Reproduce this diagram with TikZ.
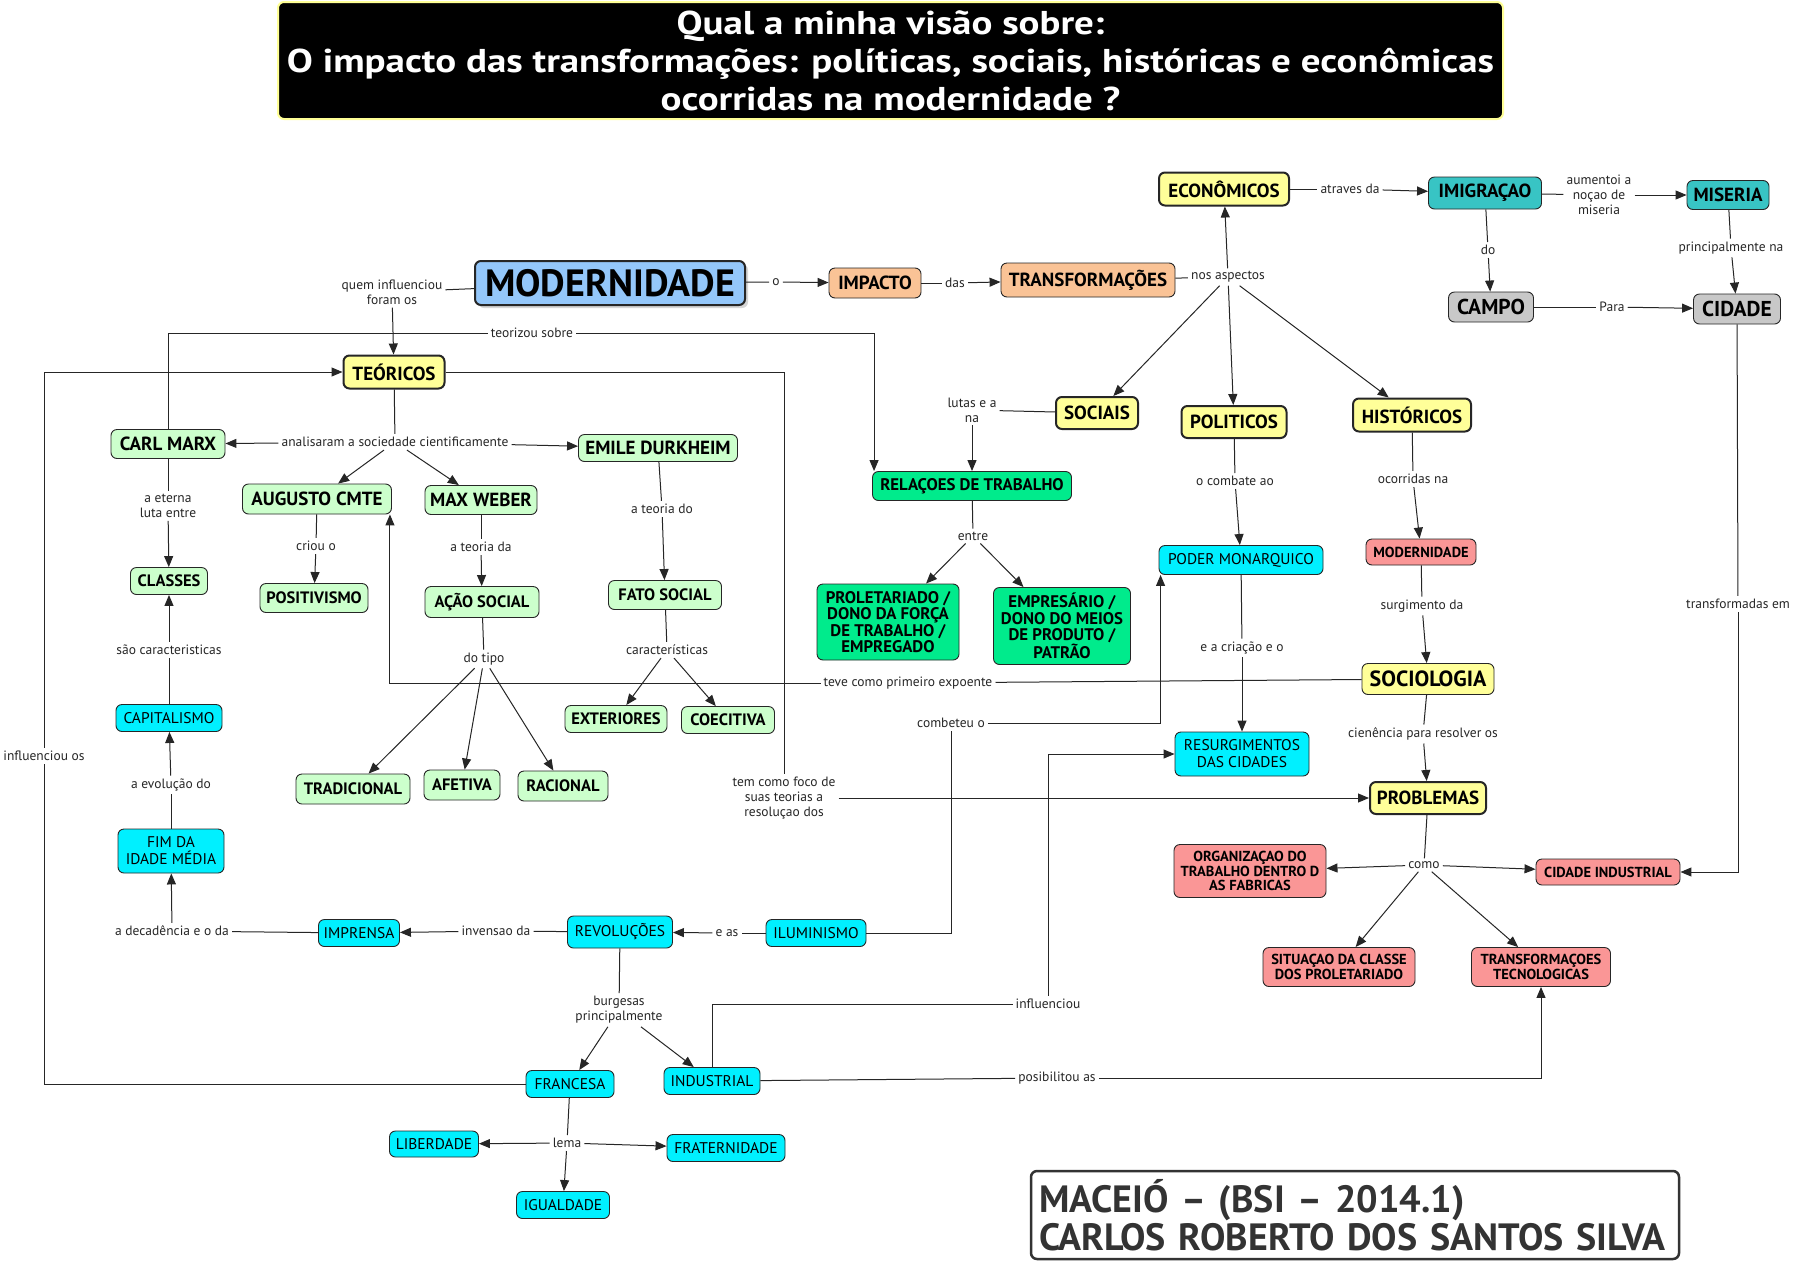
\documentclass[tikz,border=0pt]{standalone}
\usepackage{fontspec}
\setmainfont{PT Sans}
\usetikzlibrary{arrows.meta,shadows}
\newcommand\fsz[2]{\fontsize{#1}{#2}\selectfont}
\definecolor{cBlue}{RGB}{148,199,250}
\definecolor{cOrange}{RGB}{250,195,150}
\definecolor{cYel}{RGB}{255,255,153}
\definecolor{cLGreen}{RGB}{204,255,204}
\definecolor{cGreen}{RGB}{0,235,140}
\definecolor{cCyan}{RGB}{0,240,255}
\definecolor{cTeal}{RGB}{56,196,196}
\definecolor{cGray}{RGB}{200,200,200}
\definecolor{cRed}{RGB}{250,150,150}
\definecolor{cTitleBorder}{RGB}{255,255,150}
\begin{document}
\begin{tikzpicture}[x=1pt,y=-1pt,
  box/.style={draw=black!85, line width=0.9pt, rounded corners=6pt, align=center, inner sep=2pt},
  thk/.style={line width=2pt},
  wh/.style 2 args={minimum width=#1pt, minimum height=#2pt},
  fA/.style={font=\bfseries\fsz{19}{21}},
  fB/.style={font=\bfseries\fsz{16.5}{18}},
  fC/.style={font=\fsz{15.5}{17}},
  fD/.style={font=\bfseries\fsz{14.5}{14.5}},
  fE/.style={font=\bfseries\fsz{21.5}{23}},
  fG/.style={font=\bfseries\fsz{16.8}{16.4}},
  yel/.style={box, fill=cYel},
  org/.style={box, fill=cOrange, fA},
  lgr/.style={box, fill=cLGreen},
  grn/.style={box, fill=cGreen, fG},
  cyn/.style={box, fill=cCyan, fC},
  tea/.style={box, fill=cTeal, fA},
  gry/.style={box, fill=cGray, fE},
  red/.style={box, fill=cRed, fD},
  lbl/.style={font=\fsz{13.5}{15}, align=center, inner sep=3pt, text=black!85},
  ln/.style={draw=black!85, line width=1pt},
  arr/.style={ln, -{Triangle[length=11pt,width=9pt]}},
]
\path[fill=white] (0,0) rectangle (1795,1261);
\useasboundingbox (0,0) rectangle (1795,1261);

% title
\node[draw=cTitleBorder, line width=2pt, fill=black, rounded corners=6pt, wh={1225}{117}, inner sep=0pt] (title) at (890.5,60.5) {};
\node[align=center, text=white, font=\bfseries\fsz{33}{38}, inner sep=0pt] (titletext) at ([yshift=-4pt]title.center)
 {\scalebox{1.18}[1]{\begin{tabular}{@{}c@{}}Qual a minha visão sobre:\\O impacto das transformações: políticas, sociais, históricas e econômicas\\ocorridas na modernidade ?\end{tabular}}};

% credits
\node[draw=black!80, line width=2.5pt, rounded corners=6pt, fill=white, wh={648}{88}, text width=632pt, align=left, text=black!80, font=\bfseries\fsz{38}{38}, inner sep=7pt] (cred) at (1355,1215)
 {MACEIÓ – (BSI – 2014.1)\\CARLOS ROBERTO DOS SANTOS SILVA};

% main nodes
\node[box, thk, fill=cBlue, wh={270}{44}, font=\bfseries\fsz{38}{40}, drop shadow={fill=black!40, opacity=0.4, shadow xshift=3pt, shadow yshift=-3pt}] (modbig) at (610,283) {MODERNIDADE};
\node[org, wh={92}{30}] (impacto) at (875,283) {IMPACTO};
\node[org, wh={174}{34}] (transf) at (1088,280) {TRANSFORMAÇÕES};
\node[yel, thk, fA, wh={130}{33}] (econ) at (1224,189) {ECONÔMICOS};
\node[tea, wh={113}{32}] (imig) at (1485,193) {IMIGRAÇAO};
\node[tea, wh={82}{29}] (miseria) at (1728,195) {MISERIA};
\node[gry, wh={85}{30}] (campo) at (1491,307) {CAMPO};
\node[gry, wh={87}{30}] (cidade) at (1737,309) {CIDADE};
\node[yel, thk, fA, wh={82}{32}] (sociais) at (1097,413) {SOCIAIS};
\node[yel, thk, fA, wh={105}{32}] (politicos) at (1234,422) {POLITICOS};
\node[yel, thk, fA, wh={118}{33}] (historicos) at (1412,415) {HISTÓRICOS};
\node[grn, wh={199}{29}] (relacoes) at (972,486) {RELAÇOES DE TRABALHO};
\node[grn, wh={142}{76}] (prolet) at (888,622) {PROLETARIADO /\\DONO DA FORÇA\\DE TRABALHO /\\EMPREGADO};
\node[grn, wh={137}{77}] (empres) at (1062,626) {EMPRESÁRIO /\\DONO DO MEIOS\\DE PRODUTO /\\PATRÃO};
\node[cyn, wh={164}{29}] (poder) at (1241,560) {PODER MONARQUICO};
\node[red, wh={110}{26}] (modsmall) at (1421,552) {MODERNIDADE};
\node[yel, font=\bfseries\fsz{22}{24}, wh={132}{31}] (socio) at (1428,679) {SOCIOLOGIA};
\node[cyn, wh={134}{44}] (resurg) at (1242,754) {RESURGIMENTOS\\DAS CIDADES};
\node[yel, thk, fA, wh={116}{32}] (probl) at (1428,798) {PROBLEMAS};
\node[red, wh={152}{53}] (organiz) at (1250,871) {ORGANIZAÇAO DO\\TRABALHO DENTRO D\\AS FABRICAS};
\node[red, wh={144}{26}] (cidind) at (1608,872) {CIDADE INDUSTRIAL};
\node[red, wh={152}{39}] (situacao) at (1339,967) {SITUAÇAO DA CLASSE\\DOS PROLETARIADO};
\node[red, wh={139}{39}] (transtec) at (1541,967) {TRANSFORMAÇOES\\TECNOLOGICAS};

\node[yel, thk, fA, wh={101}{33}] (teo) at (394,372) {TEÓRICOS};
\node[lgr, fA, wh={114}{29}] (marx) at (168,444) {CARL MARX};
\node[lgr, fA, wh={159}{27}] (emile) at (658,448) {EMILE DURKHEIM};
\node[lgr, fA, wh={149}{30}] (augusto) at (317,499) {AUGUSTO CMTE};
\node[lgr, fA, wh={112}{29}] (weber) at (481,500) {MAX WEBER};
\node[lgr, fB, wh={77}{27}] (classes) at (169,581) {CLASSES};
\node[lgr, fB, wh={108}{29}] (posit) at (314,598) {POSITIVISMO};
\node[lgr, fB, wh={114}{31}] (acao) at (482,602) {AÇÃO SOCIAL};
\node[lgr, fB, wh={113}{29}] (fato) at (665,595) {FATO SOCIAL};
\node[lgr, fB, wh={102}{27}] (ext) at (616,719) {EXTERIORES};
\node[lgr, fB, wh={93}{27}] (coec) at (728,720) {COECITIVA};
\node[lgr, fB, wh={114}{30}] (trad) at (353,789) {TRADICIONAL};
\node[lgr, fB, wh={76}{30}] (afet) at (462,785) {AFETIVA};
\node[lgr, fB, wh={90}{30}] (rac) at (563,786) {RACIONAL};

\node[cyn, wh={106}{27}] (capital) at (169,718) {CAPITALISMO};
\node[cyn, wh={106}{44}] (fim) at (171,851) {FIM DA\\IDADE MÉDIA};
\node[cyn, wh={81}{27}] (imprensa) at (359,933) {IMPRENSA};
\node[cyn, wh={105}{32}] (revol) at (620,932) {REVOLUÇÕES};
\node[cyn, wh={100}{27}] (ilum) at (816,933) {ILUMINISMO};
\node[cyn, wh={88}{27}] (francesa) at (570,1084) {FRANCESA};
\node[cyn, wh={96}{27}] (industrial) at (712,1081) {INDUSTRIAL};
\node[cyn, wh={89}{26}] (liberdade) at (434,1144) {LIBERDADE};
\node[cyn, wh={118}{27}] (fratern) at (726,1148) {FRATERNIDADE};
\node[cyn, wh={93}{27}] (igualdade) at (563,1205) {IGUALDADE};

% linking phrases
\node[lbl] (lquem) at (392,292) {quem influenciou\\foram os};
\node[lbl] (lo) at (776,282) {o};
\node[lbl] (ldas) at (955,283) {das};
\node[lbl] (lnos) at (1228,277) {nos aspectos};
\node[lbl] (latraves) at (1350,189) {atraves da};
\node[lbl] (laum) at (1599,195) {aumentoi a\\noçao de\\miseria};
\node[lbl] (ldo) at (1488,250) {do};
\node[lbl] (lprinc) at (1731,248) {principalmente na};
\node[lbl] (lpara) at (1612,307) {Para};
\node[lbl] (ltransf) at (1738,604) {transformadas em};
\node[lbl] (llutas) at (972,410) {lutas e a\\na};
\node[lbl] (lentre) at (973,536) {entre};
\node[lbl] (lcombate) at (1235,481) {o combate ao};
\node[lbl] (locorr) at (1413,479) {ocorridas na};
\node[lbl] (lcriacao) at (1242,648) {e a criação e o};
\node[lbl] (lsurg) at (1422,606) {surgimento da};
\node[lbl] (lcien) at (1423,734) {cienência para resolver os};
\node[lbl] (lcomo) at (1424,865) {como};
\node[lbl] (lteoriz) at (532,333) {teorizou sobre};
\node[lbl] (lanal) at (395,442) {analisaram a sociedade cientificamente};
\node[lbl] (leterna) at (168,506) {a eterna\\luta entre};
\node[lbl] (lcriou) at (316,546) {criou o};
\node[lbl] (lteoriada) at (481,547) {a teoria da};
\node[lbl] (lteoriado) at (662,509) {a teoria do};
\node[lbl] (ltipo) at (484,659) {do tipo};
\node[lbl] (lcarac) at (667,650) {características};
\node[lbl] (lteve) at (908,683) {teve como primeiro expoente};
\node[lbl] (lsao) at (169,650) {são caracteristicas};
\node[lbl] (levol) at (171,785) {a evolução do};
\node[lbl] (ldecad) at (172,931) {a decadência e o da};
\node[lbl] (linv) at (496,931) {invensao da};
\node[lbl] (leas) at (727,933) {e as};
\node[lbl] (lcomb) at (951,723) {combeteu o};
\node[lbl] (ltem) at (784,798) {tem como foco de\\suas teorias a\\resoluçao dos};
\node[lbl] (lburg) at (619,1010) {burgesas\\principalmente};
\node[lbl] (linfl) at (1048,1004) {influenciou};
\node[lbl] (lposib) at (1057,1078) {posibilitou as};
\node[lbl] (linflos) at (44,756) {influenciou os};
\node[lbl] (llema) at (567,1143) {lema};

% connectors
\draw[ln] (modbig) -- (lquem);
\draw[arr] (lquem) -- (teo);
\draw[ln] (modbig) -- (lo);
\draw[arr] (lo) -- (impacto);
\draw[ln] (impacto) -- (ldas);
\draw[arr] (ldas) -- (transf);
\draw[ln] (transf) -- (lnos);
\draw[arr] (lnos) -- (econ);
\draw[arr] (lnos) -- (sociais);
\draw[arr] (lnos) -- (politicos);
\draw[arr] (lnos) -- (historicos);
\draw[ln] (econ) -- (latraves);
\draw[arr] (latraves) -- (imig);
\draw[ln] (imig) -- (laum);
\draw[arr] (laum) -- (miseria);
\draw[ln] (imig) -- (ldo);
\draw[arr] (ldo) -- (campo);
\draw[ln] (miseria) -- (lprinc);
\draw[arr] (lprinc) -- (cidade);
\draw[ln] (campo) -- (lpara);
\draw[arr] (lpara) -- (cidade);
\draw[ln] (cidade) -- (ltransf);
\draw[arr] (ltransf) |- (cidind.east);
\draw[ln] (sociais) -- (llutas);
\draw[arr] (llutas) -- (relacoes);
\draw[ln] (relacoes) -- (lentre);
\draw[arr] (lentre) -- (prolet);
\draw[arr] (lentre) -- (empres);
\draw[ln] (politicos) -- (lcombate);
\draw[arr] (lcombate) -- (poder);
\draw[ln] (poder) -- (lcriacao);
\draw[arr] (lcriacao) -- (resurg);
\draw[ln] (historicos) -- (locorr);
\draw[arr] (locorr) -- (modsmall);
\draw[ln] (modsmall) -- (lsurg);
\draw[arr] (lsurg) -- (socio);
\draw[ln] (socio) -- (lcien);
\draw[arr] (lcien) -- (probl);
\draw[ln] (probl) -- (lcomo);
\draw[arr] (lcomo) -- (organiz);
\draw[arr] (lcomo) -- (cidind);
\draw[arr] (lcomo) -- (situacao);
\draw[arr] (lcomo) -- (transtec);

\draw[ln] (marx.north) |- (lteoriz);
\draw[arr] (lteoriz) -| ([xshift=2pt]relacoes.north west);
\draw[ln] (teo) -- (lanal);
\draw[arr] (lanal) -- (marx);
\draw[arr] (lanal) -- (emile);
\draw[arr] (lanal) -- (augusto);
\draw[arr] (lanal) -- (weber);
\draw[ln] (marx) -- (leterna);
\draw[arr] (leterna) -- (classes);
\draw[ln] (augusto) -- (lcriou);
\draw[arr] (lcriou) -- (posit);
\draw[ln] (weber) -- (lteoriada);
\draw[arr] (lteoriada) -- (acao);
\draw[ln] (emile) -- (lteoriado);
\draw[arr] (lteoriado) -- (fato);
\draw[ln] (acao) -- (ltipo);
\draw[arr] (ltipo) -- (trad);
\draw[arr] (ltipo) -- (afet);
\draw[arr] (ltipo) -- (rac);
\draw[ln] (fato) -- (lcarac);
\draw[arr] (lcarac) -- (ext);
\draw[arr] (lcarac) -- (coec);
\draw[ln] (socio) -- (lteve);
\draw[arr] (lteve) -| ([xshift=-2pt]augusto.south east);

\draw[ln] (capital) -- (lsao);
\draw[arr] (lsao) -- (classes);
\draw[ln] (fim) -- (levol);
\draw[arr] (levol) -- (capital);
\draw[ln] (imprensa) -- (ldecad);
\draw[arr] (ldecad) -- (fim);
\draw[ln] (revol) -- (linv);
\draw[arr] (linv) -- (imprensa);
\draw[ln] (ilum) -- (leas);
\draw[arr] (leas) -- (revol);
\draw[ln] (ilum.east) -| (lcomb);
\draw[arr] (lcomb) -| ([xshift=2pt]poder.south west);
\draw[ln] (teo.east) -| (ltem);
\draw[arr] (ltem) -- (probl);
\draw[ln] (revol) -- (lburg);
\draw[arr] (lburg) -- (francesa);
\draw[arr] (lburg) -- (industrial);
\draw[ln] (industrial.north) |- (linfl);
\draw[arr] (linfl.north) |- (resurg.west);
\draw[ln] (industrial) -- (lposib);
\draw[arr] (lposib) -| (transtec.south);
\draw[ln] (francesa.west) -| (linflos);
\draw[arr] (linflos) |- (teo.west);
\draw[ln] (francesa) -- (llema);
\draw[arr] (llema) -- (liberdade);
\draw[arr] (llema) -- (fratern);
\draw[arr] (llema) -- (igualdade);
\end{tikzpicture}
\end{document}
